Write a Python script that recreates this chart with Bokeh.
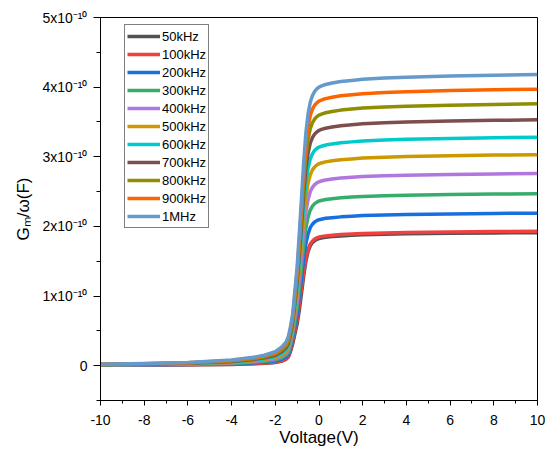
from bokeh.plotting import figure
from bokeh.models import Range1d, SingleIntervalTicker, Legend, LegendItem
from bokeh.embed import file_html
from bokeh.resources import INLINE

# Voltage grid (V)
voltage = [-10, -8, -6, -4, -3, -2.5, -2, -1.7, -1.5, -1.4, -1.3,
           -1.2, -1.1, -1.0, -0.9, -0.8, -0.7, -0.6, -0.5, -0.4, -0.3, -0.2, -0.1,
           0, 0.15, 0.3, 0.6, 1, 1.5, 2, 3, 4, 6, 8, 10]

labels = ["50kHz", "100kHz", "200kHz", "300kHz", "400kHz", "500kHz",
          "600kHz", "700kHz", "800kHz", "900kHz", "1MHz"]

colors = ["#515151", "#F14040", "#1A6FDF", "#37AD6B", "#B177DE", "#CC9900",
          "#00CBCC", "#7D4E4E", "#8E8E00", "#FB6501", "#6699CC"]

# Gm/omega in units of 1e-10 F
g_50k = [0.008, 0.010, 0.013, 0.018, 0.027, 0.036, 0.046, 0.065, 0.095, 0.125, 0.210,
         0.320, 0.460, 0.600, 0.800, 1.040, 1.290, 1.500, 1.640, 1.722, 1.768, 1.795, 1.814,
         1.826, 1.836, 1.845, 1.855, 1.864, 1.872, 1.879, 1.887, 1.893, 1.900, 1.906, 1.910]
g_100k = [0.010, 0.012, 0.015, 0.020, 0.030, 0.040, 0.050, 0.070, 0.100, 0.130, 0.225,
          0.347, 0.502, 0.656, 0.878, 1.110, 1.351, 1.544, 1.669, 1.747, 1.791, 1.818, 1.835,
          1.847, 1.857, 1.864, 1.874, 1.884, 1.891, 1.899, 1.907, 1.913, 1.920, 1.926, 1.930]
g_200k = [0.011, 0.014, 0.018, 0.027, 0.040, 0.052, 0.067, 0.092, 0.127, 0.162, 0.265,
          0.394, 0.569, 0.745, 0.996, 1.259, 1.533, 1.752, 1.894, 1.982, 2.032, 2.063, 2.083,
          2.096, 2.107, 2.116, 2.126, 2.137, 2.146, 2.155, 2.164, 2.170, 2.179, 2.186, 2.190]
g_300k = [0.012, 0.016, 0.022, 0.033, 0.050, 0.064, 0.083, 0.114, 0.153, 0.194, 0.305,
          0.445, 0.642, 0.840, 1.124, 1.420, 1.729, 1.976, 2.137, 2.235, 2.292, 2.327, 2.349,
          2.364, 2.376, 2.386, 2.398, 2.411, 2.421, 2.430, 2.440, 2.448, 2.458, 2.465, 2.470]
g_400k = [0.013, 0.018, 0.025, 0.040, 0.060, 0.077, 0.100, 0.137, 0.180, 0.227, 0.345,
          0.497, 0.718, 0.938, 1.256, 1.587, 1.932, 2.208, 2.387, 2.498, 2.561, 2.600, 2.625,
          2.641, 2.655, 2.666, 2.680, 2.694, 2.705, 2.716, 2.727, 2.735, 2.746, 2.754, 2.760]
g_500k = [0.014, 0.020, 0.028, 0.047, 0.070, 0.089, 0.117, 0.159, 0.207, 0.259, 0.385,
          0.545, 0.788, 1.030, 1.379, 1.742, 2.121, 2.424, 2.621, 2.742, 2.812, 2.854, 2.882,
          2.900, 2.915, 2.927, 2.942, 2.957, 2.969, 2.982, 2.994, 3.003, 3.015, 3.024, 3.030]
g_600k = [0.016, 0.022, 0.032, 0.053, 0.080, 0.101, 0.133, 0.181, 0.233, 0.291, 0.425,
          0.590, 0.853, 1.115, 1.492, 1.886, 2.296, 2.624, 2.837, 2.968, 3.044, 3.090, 3.119,
          3.139, 3.155, 3.168, 3.185, 3.201, 3.214, 3.228, 3.241, 3.250, 3.264, 3.273, 3.280]
g_700k = [0.017, 0.024, 0.035, 0.060, 0.090, 0.113, 0.150, 0.203, 0.260, 0.323, 0.460,
          0.635, 0.918, 1.200, 1.606, 2.030, 2.471, 2.824, 3.053, 3.195, 3.276, 3.325, 3.357,
          3.378, 3.396, 3.410, 3.428, 3.445, 3.459, 3.474, 3.488, 3.498, 3.512, 3.523, 3.530]
g_800k = [0.018, 0.026, 0.038, 0.067, 0.100, 0.126, 0.167, 0.226, 0.287, 0.356, 0.500,
          0.677, 0.978, 1.278, 1.711, 2.162, 2.632, 3.008, 3.252, 3.403, 3.489, 3.542, 3.576,
          3.598, 3.617, 3.632, 3.651, 3.670, 3.685, 3.700, 3.715, 3.726, 3.741, 3.752, 3.760]
g_900k = [0.019, 0.028, 0.042, 0.073, 0.110, 0.138, 0.183, 0.248, 0.313, 0.388, 0.530,
          0.715, 1.032, 1.350, 1.806, 2.283, 2.779, 3.176, 3.434, 3.593, 3.684, 3.740, 3.775,
          3.799, 3.819, 3.835, 3.855, 3.875, 3.891, 3.906, 3.922, 3.934, 3.950, 3.962, 3.970]
g_1m = [0.020, 0.030, 0.045, 0.080, 0.120, 0.150, 0.200, 0.270, 0.340, 0.420, 0.570,
        0.752, 1.087, 1.421, 1.902, 2.404, 2.926, 3.344, 3.616, 3.783, 3.879, 3.938, 3.975,
        4.000, 4.021, 4.038, 4.059, 4.080, 4.096, 4.113, 4.130, 4.142, 4.159, 4.172, 4.180]

series = [g_50k, g_100k, g_200k, g_300k, g_400k, g_500k,
          g_600k, g_700k, g_800k, g_900k, g_1m]

x_ticks = [-10, -8, -6, -4, -2, 0, 2, 4, 6, 8, 10]
y_ticks = [0, 1, 2, 3, 4, 5]
y_tick_labels = ["0", "1x10\u207b\u00b9\u2070", "2x10\u207b\u00b9\u2070", "3x10\u207b\u00b9\u2070",
                 "4x10\u207b\u00b9\u2070", "5x10\u207b\u00b9\u2070"]

FONT = "Liberation Sans"

p = figure(width=546, height=452, output_backend="svg", toolbar_location=None,
           x_range=Range1d(-10, 10), y_range=Range1d(-0.5, 5),
           min_border_left=100, min_border_right=9, min_border_top=17,
           min_border_bottom=52)
p.grid.visible = False
p.outline_line_color = "black"
p.outline_line_width = 1
p.background_fill_color = "white"
p.border_fill_color = "white"

renderers = []
for vals, col in zip(series, colors):
    r = p.line(voltage, vals, line_color=col, line_width=3.5, line_join="round")
    renderers.append(r)

# axes
p.xaxis.ticker = SingleIntervalTicker(interval=2, num_minor_ticks=2)
p.yaxis.ticker = SingleIntervalTicker(interval=1, num_minor_ticks=2)
p.yaxis.major_label_overrides = {t: l for t, l in zip(y_ticks, y_tick_labels)}
p.xaxis.major_label_overrides = {t: str(t) for t in x_ticks}

for ax in (p.xaxis, p.yaxis):
    ax.axis_line_color = "black"
    ax.axis_line_width = 1
    ax.major_tick_line_color = "black"
    ax.minor_tick_line_color = "black"
    ax.major_tick_in = 0
    ax.minor_tick_in = 0
    ax.major_label_text_font = FONT
    ax.major_label_text_font_size = "14px"
    ax.major_label_text_color = "black"
    ax.axis_label_text_font = FONT
    ax.axis_label_text_font_size = "17px"
    ax.axis_label_text_font_style = "normal"
    ax.axis_label_text_color = "black"

p.xaxis.major_tick_out = 5
p.xaxis.minor_tick_out = 3
p.yaxis.major_tick_out = 7
p.yaxis.minor_tick_out = 4
p.xaxis.major_label_standoff = 9
p.yaxis.major_label_standoff = 6
p.xaxis.axis_label = "Voltage(V)"
p.yaxis.axis_label = "G\u2098/\u03c9(F)"
p.xaxis.axis_label_standoff = 0
p.yaxis.axis_label_standoff = 6

items = [LegendItem(label=lab, renderers=[r]) for lab, r in zip(labels, renderers)]
legend = Legend(items=items, location=(24, 172))
legend.label_text_font = FONT
legend.label_text_font_size = "13px"
legend.label_text_color = "black"
legend.glyph_width = 33
legend.glyph_height = 18
legend.label_height = 18
legend.spacing = 0
legend.padding = 2
legend.margin = 0
legend.label_standoff = 2
legend.border_line_color = "black"
legend.border_line_width = 1
legend.background_fill_alpha = 1
p.add_layout(legend, "center")

open("out.html", "w").write(file_html(p, INLINE))
